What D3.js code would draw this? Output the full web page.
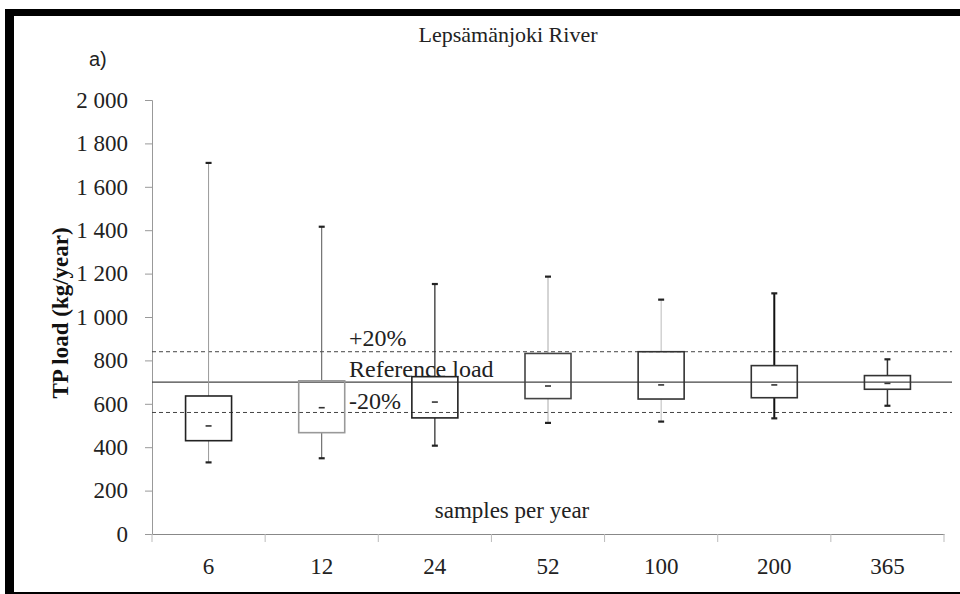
<!DOCTYPE html>
<html>
<head>
<meta charset="utf-8">
<script src="https://cdn.jsdelivr.net/npm/d3@7"></script>
<style>
  body { margin: 0; background: #fff; }
  svg { display: block; }
</style>
</head>
<body>
<svg id="chart" width="960" height="594"></svg>
<script>
// samples per year
const categories = ["6", "12", "24", "52", "100", "200", "365"];
// box plot stats (kg/year)
const whiskerMax = [1710, 1416, 1152, 1186, 1080, 1109, 805];
const q3 = [636, 706, 725, 832, 840, 776, 730];
const medians = [498, 582, 608, 682, 687, 687, 694];
const q1 = [430, 467, 535, 624, 622, 628, 667];
const whiskerMin = [330, 349, 407, 512, 518, 533, 591];
const referenceLoad = 700;
const yTicks = [0, 200, 400, 600, 800, 1000, 1200, 1400, 1600, 1800, 2000];

// stroke colours of the boxes and whiskers (as in the scanned figure)
const boxColor = ["#222", "#999", "#222", "#444", "#333", "#333", "#333"];
const whiskerColor = ["#999", "#555", "#333", "#aaa", "#bbb", "#111", "#333"];
const whiskerWidth = [1, 1, 1.3, 1, 1, 2, 1.5];

const serif = '"Liberation Serif", "DejaVu Serif", serif';
const svg = d3.select('#chart');

// frame
svg.append('rect').attr('x', 5).attr('y', 9).attr('width', 955).attr('height', 7).attr('fill', '#000');
svg.append('rect').attr('x', 5).attr('y', 9).attr('width', 9).attr('height', 585).attr('fill', '#000');
svg.append('rect').attr('x', 5).attr('y', 592).attr('width', 955).attr('height', 2).attr('fill', '#000');

const x = d3.scaleBand().domain(categories).range([152, 944]);
const y = d3.scaleLinear().domain([0, 2000]).range([534, 100]);

const fmt = d3.formatLocale({decimal: ".", thousands: " ", grouping: [3], currency: ["", ""]}).format(",d");

// y axis
const yAxis = svg.append('g')
    .attr('transform', 'translate(152,0)')
    .call(d3.axisLeft(y).tickValues(yTicks).tickSize(7).tickPadding(17).tickFormat(fmt));
yAxis.select('.domain').attr('stroke', '#999');
yAxis.selectAll('.tick line').attr('stroke', '#999');
yAxis.selectAll('.tick text').attr('font-family', serif).attr('font-size', 23).attr('fill', '#222');

// x axis
const xAxis = svg.append('g')
    .attr('transform', 'translate(0,534)')
    .call(d3.axisBottom(x).tickSize(0).tickPadding(24));
xAxis.select('.domain').attr('stroke', '#888').attr('stroke-width', 1.2);
xAxis.selectAll('.tick text').attr('font-family', serif).attr('font-size', 23).attr('fill', '#222');
// boundary ticks between categories
const bounds = categories.map(c => x(c)).concat([x.range()[1]]);
xAxis.selectAll('.bound').data(bounds).enter().append('line')
    .attr('x1', d => d).attr('x2', d => d)
    .attr('y1', 0).attr('y2', 8)
    .attr('stroke', '#bbb');

// reference and +-20 % lines
const refLines = [
    {v: referenceLoad * 1.2, dash: '4,3'},
    {v: referenceLoad, dash: null},
    {v: referenceLoad * 0.8, dash: '4,3'},
];
svg.selectAll('.ref').data(refLines).enter().append('line')
    .attr('x1', 152).attr('x2', 952)
    .attr('y1', d => y(d.v)).attr('y2', d => y(d.v))
    .attr('stroke', '#444')
    .attr('stroke-width', d => d.dash ? 1 : 1.3)
    .attr('stroke-dasharray', d => d.dash);

// boxes
const bw = 46;
const cx = i => x(categories[i]) + x.bandwidth() / 2;
const g = svg.append('g');
categories.forEach((c, i) => {
    const xc = cx(i);
    // upper and lower whiskers
    g.append('line').attr('x1', xc).attr('x2', xc).attr('y1', y(whiskerMax[i])).attr('y2', y(q3[i]))
        .attr('stroke', whiskerColor[i]).attr('stroke-width', whiskerWidth[i]);
    g.append('line').attr('x1', xc).attr('x2', xc).attr('y1', y(q1[i])).attr('y2', y(whiskerMin[i]))
        .attr('stroke', whiskerColor[i]).attr('stroke-width', whiskerWidth[i]);
    // end caps
    [whiskerMax[i], whiskerMin[i]].forEach(v => {
        g.append('line').attr('x1', xc - 3).attr('x2', xc + 3).attr('y1', y(v)).attr('y2', y(v))
            .attr('stroke', '#222').attr('stroke-width', 2.2);
    });
    // box
    g.append('rect')
        .attr('x', xc - bw / 2).attr('y', y(q3[i]))
        .attr('width', bw).attr('height', y(q1[i]) - y(q3[i]))
        .attr('fill', 'none').attr('stroke', boxColor[i]).attr('stroke-width', 1.6);
    // median dash
    g.append('line').attr('x1', xc - 3).attr('x2', xc + 3).attr('y1', y(medians[i])).attr('y2', y(medians[i]))
        .attr('stroke', '#333').attr('stroke-width', 1.6);
});

// texts
svg.append('text').attr('x', 508).attr('y', 42).attr('text-anchor', 'middle')
    .attr('font-family', serif).attr('font-size', 22).attr('fill', '#222')
    .text('Lepsämänjoki River');
svg.append('text').attr('x', 89).attr('y', 66)
    .attr('font-family', '"Liberation Sans Narrow", "Liberation Sans", Arial, sans-serif')
    .attr('font-size', 20).attr('fill', '#222')
    .text('a)');
svg.append('text').attr('transform', 'translate(68,313) rotate(-90)').attr('text-anchor', 'middle')
    .attr('font-family', serif).attr('font-size', 23).attr('font-weight', 'bold').attr('fill', '#111')
    .text('TP load (kg/year)');
svg.append('text').attr('x', 349).attr('y', 346)
    .attr('font-family', serif).attr('font-size', 24).attr('fill', '#222').text('+20%');
svg.append('text').attr('x', 349).attr('y', 377)
    .attr('font-family', serif).attr('font-size', 24).attr('fill', '#222').text('Reference load');
svg.append('text').attr('x', 349).attr('y', 409)
    .attr('font-family', serif).attr('font-size', 24).attr('fill', '#222').text('-20%');
svg.append('text').attr('x', 512).attr('y', 518).attr('text-anchor', 'middle')
    .attr('font-family', serif).attr('font-size', 23).attr('fill', '#222').text('samples per year');
</script>
</body>
</html>
